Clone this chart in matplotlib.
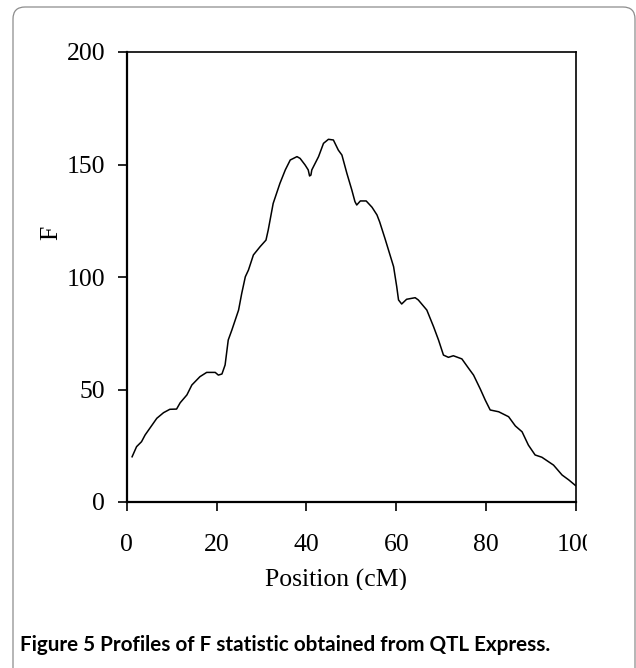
import matplotlib
matplotlib.use("Agg")
import matplotlib.pyplot as plt
from matplotlib.patches import FancyBboxPatch
from matplotlib.transforms import Bbox

# F statistic profile
position = [1.2, 2.2, 3.3, 4.1, 6.7, 8.2, 9.6, 11.1, 11.9, 13.4, 14.5, 16.3,
            17.8, 19.7, 20.4, 21.2, 21.9, 22.6, 23.4, 24.9, 25.6, 26.4, 27.1,
            28.2, 29.7, 31.0, 31.5, 32.6, 34.1, 35.3, 36.4, 37.9, 38.6, 39.7,
            40.4, 40.7, 41.0, 41.2, 42.7, 43.8, 44.9, 46.0, 47.1, 47.9, 49.0,
            50.1, 50.8, 51.2, 52.0, 53.3, 54.6, 55.7, 56.3, 57.5, 59.4, 60.1,
            60.5, 61.2, 62.3, 64.2, 64.9, 66.8, 68.3, 69.4, 70.5, 71.6, 72.7,
            74.6, 76.1, 77.2, 78.7, 79.8, 80.9, 82.8, 85.0, 86.5, 88.0, 89.4,
            90.9, 92.4, 95.0, 96.9, 98.4, 99.9]
f_stat = [20.1, 24.6, 26.8, 29.8, 37.2, 39.7, 41.2, 41.3, 44.1, 47.6, 52.0, 55.7,
          57.6, 57.6, 56.4, 56.9, 60.9, 72.0, 76.4, 85.3, 92.7, 100.1, 103.1,
          109.8, 113.5, 116.4, 120.9, 132.7, 141.6, 147.6, 152.0, 153.5, 152.7, 149.8,
          147.6, 144.9, 145.3, 147.6, 153.5, 159.4, 161.2, 160.9, 156.4, 154.2, 146.1,
          138.7, 133.5, 132.0, 133.8, 133.8, 131.0, 127.6, 124.5, 117.0, 104.6, 95.7,
          89.8, 88.0, 90.1, 90.8, 89.8, 85.3, 77.9, 72.0, 65.3, 64.3, 65.0,
          63.6, 59.4, 56.4, 50.2, 45.3, 40.9, 40.1, 37.9, 33.8, 31.2, 25.3,
          20.9, 19.9, 16.4, 12.0, 9.8, 7.3]

x_ticks = [0, 20, 40, 60, 80, 100]
y_ticks = [0, 50, 100, 150, 200]
caption = "Figure 5 Profiles of F statistic obtained from QTL Express."

fig = plt.figure(figsize=(6.36, 6.68), dpi=100)
ax = fig.add_axes([126.7 / 636, 1 - 502 / 668, 449.3 / 636, 450 / 668])

ax.plot(position, f_stat, color='black', linewidth=1.1, solid_joinstyle='round')
ax.set_xlim(0, 100)
ax.set_ylim(0, 200)
ax.set_xticks(x_ticks)
ax.set_yticks(y_ticks)

serif = 'Liberation Serif'
for lbl in ax.get_xticklabels() + ax.get_yticklabels():
    lbl.set_fontfamily(serif)
ax.tick_params(direction='out', length=6.5, width=1.2, labelsize=18.5, colors='black')
ax.tick_params(axis='x', pad=16.5)
ax.tick_params(axis='y', pad=9)

for side in ['left', 'bottom']:
    ax.spines[side].set_linewidth(1.6)
for side in ['top', 'right']:
    ax.spines[side].set_linewidth(1.2)

ax.set_xlabel("Position (cM)", fontfamily=serif, fontsize=18.5)
ax.xaxis.set_label_coords((336 - 126.7) / 449.3, -0.149)
ax.set_ylabel("F", fontfamily=serif, fontsize=18.5)
ax.yaxis.set_label_coords((62.5 - 126.7) / 449.3, 0.598)

# the original chart image is cropped on the right and at the bottom
clip = Bbox([[0, 668 - 590], [587, 668]])
for t in ax.xaxis.get_major_ticks():
    t.label1.set_clip_box(clip)
ax.xaxis.label.set_clip_box(clip)

# outer frame of the figure panel
frame = FancyBboxPatch((0.13, -0.3), 6.22, 6.91,
                       boxstyle="round,pad=0,rounding_size=0.12",
                       transform=fig.dpi_scale_trans, facecolor='none',
                       edgecolor='#8c8c8c', linewidth=0.9)
fig.patches.append(frame)

fig.text(20 / 636, 1 - 651 / 668, caption, fontfamily='Lato', fontweight='bold',
         fontsize=14.9, va='baseline', ha='left', color='black')

fig.savefig('out.png', dpi=100)
